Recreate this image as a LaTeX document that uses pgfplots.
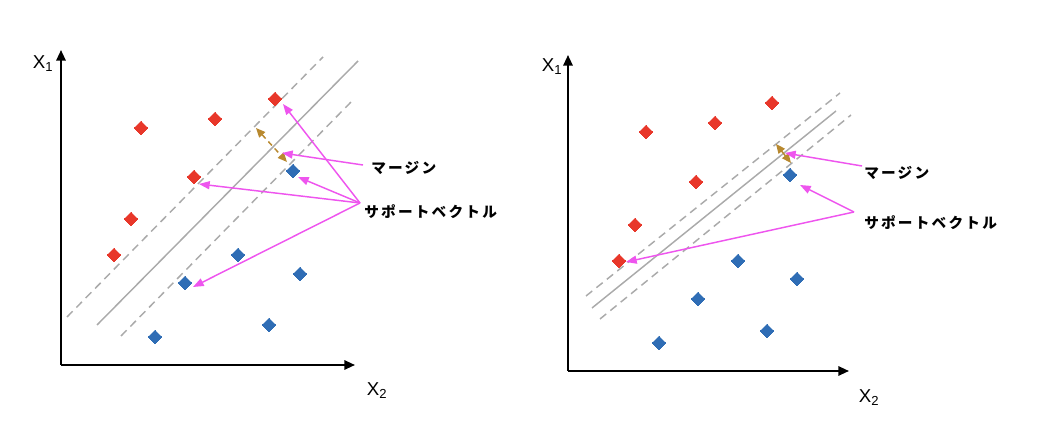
\documentclass[border=0pt]{standalone}
\usepackage{fontspec}
\setmainfont{Liberation Sans}
\newfontfamily\cjk{Noto Sans CJK JP}
\usepackage{pgfplots}
\pgfplotsset{compat=1.18}
\usetikzlibrary{arrows.meta}

\definecolor{ptred}{HTML}{E8372A}
\definecolor{ptblue}{HTML}{2F6DB5}
\definecolor{pink}{HTML}{EE55EE}
\definecolor{gold}{HTML}{B8892F}
\definecolor{hyper}{HTML}{AAAAAA}

% coordinates are in pixels of the 1050x442 reference, y counted upwards
\pgfplotsset{
  svm/.style={
    x=0.75pt, y=0.75pt,
    anchor=south west,
    axis lines=left,
    xtick=\empty, ytick=\empty,
    clip=false,
    axis line style={line width=1.5pt, -{Triangle[length=8pt,width=7pt]}},
  },
  pts/.style={only marks, color=#1, mark=square*, mark size=3.6pt,
    mark options={rotate=45, draw=#1, fill=#1, line width=0pt}},
  hyp/.style={no marks, hyper, line width=1.1pt},
  marg/.style={no marks, hyper, line width=1.1pt, dash pattern=on 6pt off 4pt},
}
\tikzset{
  sv/.style={pink, line width=1.1pt, -{Triangle[length=8pt,width=6pt]}},
  jp/.style={font=\cjk\bfseries\fontsize{11}{13}\selectfont\addfontfeature{LetterSpace=15}, anchor=west, inner sep=0pt},
  xl/.style={font=\fontsize{14}{16}\selectfont, inner sep=0pt},
}

\begin{document}
\begin{tikzpicture}
% ---- left: wide margin
\begin{axis}[svm, at={(45.75pt,57.75pt)}, xmin=61, xmax=355, ymin=77, ymax=392]
  \addplot[pts=ptred] coordinates {(275,343) (215,323) (141,314) (194,265) (131,223) (114,187)};
  \addplot[pts=ptblue] coordinates {(293,271) (238,187) (300,168) (185,159) (269,117) (155,105)};
  \addplot[hyp] coordinates {(97,117) (358,381)};
  \addplot[marg] coordinates {(67,125) (323,385)};
  \addplot[marg] coordinates {(121,106) (352,341)};
  \draw[gold, line width=1.1pt, dash pattern=on 4pt off 3pt,
    {Triangle[length=7pt,width=6pt]}-{Triangle[length=7pt,width=6pt]}]
    (axis cs:256,314) -- (axis cs:287,280);
  \draw[sv] (axis cs:363,277) -- (axis cs:282,289);
  \draw[sv] (axis cs:360,239) -- (axis cs:283,338);
  \draw[sv] (axis cs:360,239) -- (axis cs:298,265);
  \draw[sv] (axis cs:360,239) -- (axis cs:199,258);
  \draw[sv] (axis cs:360,239) -- (axis cs:193,155);
  \node[jp] at (axis cs:371,274) {マージン};
  \node[jp] at (axis cs:364,230) {サポートベクトル};
  \node[xl] at (axis cs:43,378) {X\textsubscript{1}};
  \node[xl] at (axis cs:377,51) {X\textsubscript{2}};
\end{axis}
% ---- right: narrow margin
\begin{axis}[svm, at={(426pt,53.25pt)}, xmin=568, xmax=849, ymin=71, ymax=387]
  \addplot[pts=ptred] coordinates {(772,339) (715,319) (646,310) (696,260) (635,217) (619,181)};
  \addplot[pts=ptblue] coordinates {(790,267) (738,181) (797,163) (698,143) (767,111) (659,99)};
  \addplot[hyp] coordinates {(592,134) (836,331)};
  \addplot[marg] coordinates {(586,146) (840,349)};
  \addplot[marg] coordinates {(600,123) (851,327)};
  \draw[gold, line width=1.1pt,
    {Triangle[length=7pt,width=6pt]}-{Triangle[length=7pt,width=6pt]}]
    (axis cs:776,298) -- (axis cs:791,279);
  \draw[sv] (axis cs:862,276) -- (axis cs:785,289);
  \draw[sv] (axis cs:854,230) -- (axis cs:800,257);
  \draw[sv] (axis cs:854,230) -- (axis cs:626,180);
  \node[jp] at (axis cs:864,269) {マージン};
  \node[jp] at (axis cs:864,219) {サポートベクトル};
  \node[xl] at (axis cs:552,375) {X\textsubscript{1}};
  \node[xl] at (axis cs:869,44) {X\textsubscript{2}};
\end{axis}
\pgfresetboundingbox
\path (0,0) rectangle (787.5pt,331.5pt);
\end{tikzpicture}
\end{document}
